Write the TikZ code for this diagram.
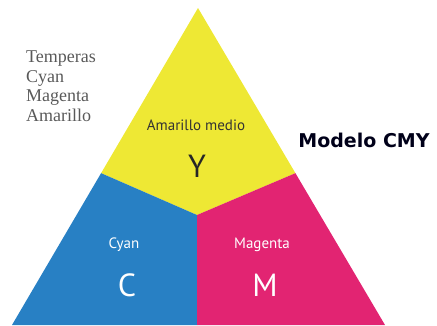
\documentclass[tikz,border=0pt]{standalone}
\usepackage{fontspec}
\setmainfont{Liberation Serif}
\newfontfamily\labelfont{PT Sans}
\newfontfamily\titlefont{DejaVu Sans}
\usepackage{tikz}
\usetikzlibrary{calc}
\usepackage{xcolor}

\definecolor{amarillo}{RGB}{238,232,52}
\definecolor{cian}{RGB}{40,128,196}
\definecolor{magenta}{RGB}{226,36,114}

\begin{document}
\begin{tikzpicture}[x = 1pt, y = -1pt,
    zona/.style = {inner sep = 0pt},
    nombre/.style = {font = \labelfont\fontsize{15}{16}\selectfont},
    letra/.style = {font = \labelfont\fontsize{32}{32}\selectfont}]
    \useasboundingbox (0,0) rectangle (437,325);
    \pgfmathsetmacro{\ax}{198}
    \pgfmathsetmacro{\ay}{8}
    \pgfmathsetmacro{\by}{325}
    \coordinate (apex) at (\ax,\ay);
    \coordinate (bl) at (12,\by);
    \coordinate (br) at (385,\by);
    \coordinate (ly) at ($(apex)!0.521!(bl)$);
    \coordinate (ry) at ($(apex)!0.521!(br)$);
    \coordinate (mid) at (197,215);
    \coordinate (mb) at (197,\by);
    \fill[amarillo] (apex) -- (ry) -- (mid) -- (ly) -- cycle;
    \fill[cian] (ly) -- (mid) -- (mb) -- (bl) -- cycle;
    \fill[magenta] (mid) -- (ry) -- (br) -- (mb) -- cycle;
    \node[zona, anchor = north west, align = left, text = black!65,
        font = \fontsize{18}{19.5}\selectfont] (lista) at (26,51)
        {Temperas\\Cyan\\Magenta\\Amarillo};
    \node[nombre, text = black!80] (amedio) at (196,125) {Amarillo medio};
    \node[letra, text = black!85] (Y) at (197,166) {Y};
    \node[nombre, text = white] (cyan) at (124,245) {Cyan};
    \node[letra, text = white] (C) at (127,285) {C};
    \node[nombre, text = white] (magenta) at (262,245) {Magenta};
    \node[letra, text = white] (M) at (265,285) {M};
    \node[text = black!90!blue, font = \titlefont\bfseries\fontsize{19}{20}\selectfont] (titulo) at (364,140) {Modelo CMY};
\end{tikzpicture}
\end{document}
